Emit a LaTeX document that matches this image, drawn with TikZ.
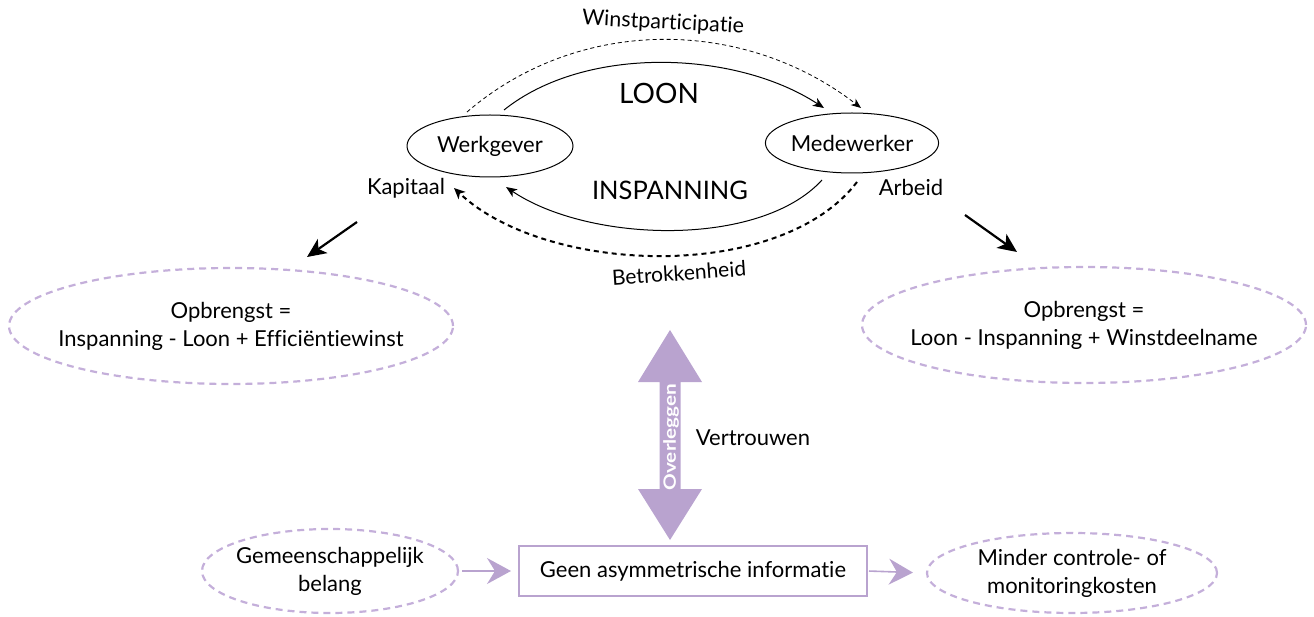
\documentclass[tikz,border=0pt]{standalone}
\usepackage{fontspec}
\usepackage{graphicx}
\setmainfont{Lato}[Ligatures=NoCommon]
\usetikzlibrary{arrows.meta,calc,shapes.geometric}
\definecolor{lilac}{HTML}{B9A3CF}
\definecolor{lilacd}{HTML}{C4AFDA}
\begin{document}
\begin{tikzpicture}[x=1pt,y=-1pt,
  txt/.style={font=\fontsize{22}{28}\selectfont, align=center, inner sep=0pt},
  actor/.style={ellipse, draw, line width=1pt, inner sep=0pt, font=\fontsize{22}{26}\selectfont},
  result/.style={ellipse, draw=lilacd, line width=2.2pt, dash pattern=on 7pt off 5pt, inner sep=0pt},
  solidarr/.style={line width=1pt, -{Stealth[length=11pt,width=9pt,inset=3pt]}},
  thindash/.style={line width=0.8pt, dash pattern=on 4pt off 3pt, -{Stealth[length=10pt,width=8pt,inset=3pt]}},
  thickdash/.style={line width=2pt, dash pattern=on 5pt off 4pt, -{Stealth[length=11pt,width=10pt,inset=3pt]}},
  bigarr/.style={line width=2.2pt, -{Stealth[length=19pt,width=17pt,inset=5pt]}},
  lilacarr/.style={draw=lilac, line width=1.6pt, -{Stealth[length=24pt,width=26pt,inset=8pt]}}
]
\useasboundingbox (0,0) rectangle (1314,617);

% actors
\node[actor, minimum width=166pt, minimum height=62pt] (wg) at (490,146) {Werkgever};
\node[actor, minimum width=164pt, minimum height=60pt] (me) at (852,143) {Medewerker};

\node[txt] (kap) at (406,188) {Kapitaal};
\node[txt] (arb) at (911,187) {Arbeid};

\node[font=\fontsize{28}{30}\selectfont, inner sep=0pt] (loon) at (659,93) {LOON};
\node[font=\fontsize{25.5}{30}\selectfont, inner sep=0pt] (insp) at (670,190) {INSPANNING};
\node[txt, font=\fontsize{21.5}{26}\selectfont, rotate=-3] (winst) at (663,23) {Winstparticipatie};
\node[txt, font=\fontsize{21}{26}\selectfont, rotate=4] (betr) at (679,273) {Betrokkenheid};

% flows
\draw[solidarr] ($(wg)+(14,-36)$) .. controls (585,45) and (735,50) .. ($(me)+(-28,-35)$);
\draw[thindash] ($(wg)+(-23,-34)$) .. controls (580,15) and (745,18) .. ($(me)+(9,-35)$);
\draw[solidarr] ($(me)+(-30,37)$) .. controls (760,248) and (589,243) .. ($(wg)+(16,41)$);
\draw[thickdash] ($(me)+(5,39)$) .. controls (780,283) and (546,275) .. ($(wg)+(-36,42)$);

% results
\node[result, minimum width=444pt, minimum height=116pt] (op1) at (231,326) {};
\node[txt] (op1t) at (op1) {Opbrengst =\\Inspanning - Loon + Efficiëntiewinst};
\node[result, minimum width=444pt, minimum height=116pt] (op2) at (1084,325) {};
\node[txt] (op2t) at (op2) {Opbrengst =\\Loon - Inspanning + Winstdeelname};

\coordinate (la1) at (357,222);
\coordinate (la2) at (307,257);
\coordinate (ra1) at (965,215);
\coordinate (ra2) at (1017,252);
\draw[bigarr] (la1) -- (la2);
\draw[bigarr] (ra1) -- (ra2);

% double arrow
\coordinate (dtop) at (670,330);
\coordinate (dbot) at (670,540);
\fill[lilac] (dtop) -- ($(dtop)+(32,52)$) -- ($(dtop)+(10.5,52)$) -- ($(dbot)+(10.5,-51)$) -- ($(dbot)+(32,-51)$) -- (dbot)
  -- ($(dbot)+(-32,-51)$) -- ($(dbot)+(-10.5,-51)$) -- ($(dtop)+(-10.5,52)$) -- ($(dtop)+(-32,52)$) -- cycle;
\node[rotate=90, text=white, font=\fontsize{17}{18}\selectfont\bfseries, inner sep=0pt] (over) at (671,437) {\scalebox{1.22}[1]{Overleggen}};
\node[txt] (vert) at (753,438) {Vertrouwen};

% bottom row
\node[draw=lilac, line width=2pt, minimum width=348pt, minimum height=50pt, inner sep=0pt, font=\fontsize{22}{26}\selectfont] (box) at (693,571) {Geen asymmetrische informatie};
\node[result, minimum width=256pt, minimum height=84pt] (gb) at (330,571) {};
\node[txt] (gbt) at (gb) {Gemeenschappelijk\\belang};
\node[result, minimum width=290pt, minimum height=80pt] (mc) at (1072,573) {};
\node[txt] (mct) at (mc) {Minder controle- of\\monitoringkosten};

\draw[lilacarr, shorten >=7pt, shorten <=3pt] (gb.east) -- (box.west);
\draw[lilacarr, shorten >=13pt, shorten <=1pt] (box.east) -- (mc.west);
\end{tikzpicture}
\end{document}
